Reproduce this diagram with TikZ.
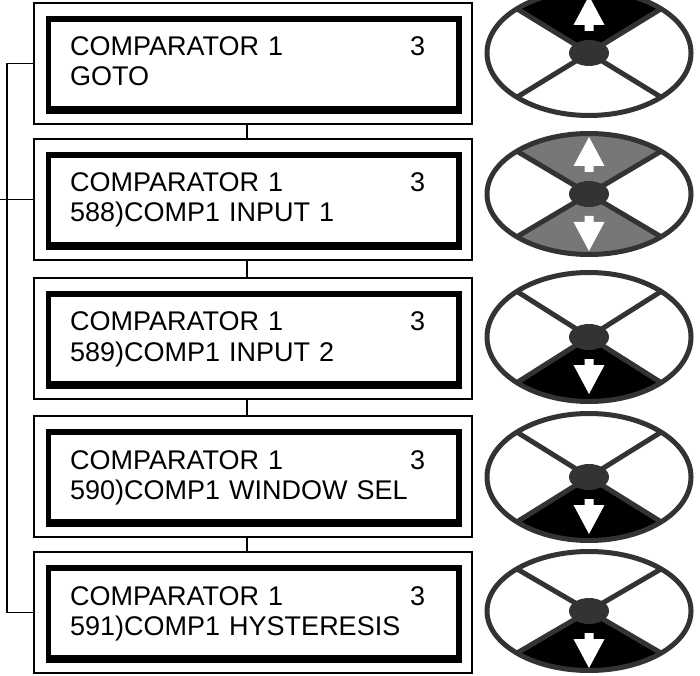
\documentclass[tikz,border=0pt]{standalone}
\usepackage{fontspec}
\setmainfont{Liberation Sans}
\definecolor{padline}{HTML}{333333}
\definecolor{padgray}{HTML}{777777}
\begin{document}
\begin{tikzpicture}[x=1pt, y=1pt,
  panel/.style={draw, line width=1.3pt, minimum width=438pt, minimum height=121pt, inner sep=0pt, outer sep=0pt},
  lcd/.style={anchor=base west, inner sep=0pt, text width=355pt, align=left, font=\fontsize{27}{30}\selectfont},
  link/.style={line width=1.3pt},
  rim/.style={padline, line width=5pt}]
\clip (0,0) rectangle (700,675);
% display panels
\foreach \i/\yb/\txt in {1/611.5/GOTO, 2/475.5/588)COMP1 INPUT 1, 3/336.5/589)COMP1 INPUT 2, 4/198.5/590)COMP1 WINDOW SEL, 5/62.5/591)COMP1 HYSTERESIS}{
  \node[panel] (b\i) at (253,\yb) {};
  \fill ([shift={(12,-13)}]b\i.north west) rectangle ([shift={(-10,10)}]b\i.south east);
  \fill[white] ([shift={(17,-19)}]b\i.north west) rectangle ([shift={(-16,18)}]b\i.south east);
  \node[lcd] (l\i) at ([shift={(36,-53)}]b\i.north west) {COMPARATOR 1\hfill 3};
  \node[lcd] (m\i) at ([shift={(36,-83)}]b\i.north west) {\txt};
}
\foreach \i [count=\j from 2] in {1,...,4}
  \draw[link] ([xshift=-6pt]b\i.south) -- ([xshift=-6pt]b\j.north);
\draw[link] (b1.west) -- ++(-27,0) |- (b5.west);
\draw[link] (b2.west) -- (b2.west -| 0,0);
% keypads
\foreach \i/\cy/\ry/\tc/\ta/\bc/\ba in {1/622/62.5/black/white/none/none, 2/481/60.5/padgray/white/padgray/white, 3/338/64.5/none/none/black/white, 4/198/63.5/none/none/black/white, 5/64/59.5/none/none/black/white}{
  \coordinate (w\i) at (589,\cy);
  \fill[fill=\tc] (w\i) -- ++(45:102 and \ry) arc[start angle=45, end angle=135, x radius=102, y radius=\ry] -- cycle;
  \fill[fill=\bc] (w\i) -- ++(225:102 and \ry) arc[start angle=225, end angle=315, x radius=102, y radius=\ry] -- cycle;
  \fill[fill=\ta] (w\i) ++(-4.5,22) -- ++(0,6) -- ++(-11,0) -- ++(15.5,29) -- ++(15.5,-29) -- ++(-11,0) -- ++(0,-6) -- cycle;
  \fill[fill=\ba] (w\i) ++(-4.5,-22) -- ++(0,-6) -- ++(-11,0) -- ++(15.5,-29) -- ++(15.5,29) -- ++(-11,0) -- ++(0,6) -- cycle;
  \draw[rim] (w\i) ellipse[x radius=102, y radius=\ry];
  \draw[rim] (w\i) -- ++(45:102 and \ry) (w\i) -- ++(135:102 and \ry)
    (w\i) -- ++(225:102 and \ry) (w\i) -- ++(315:102 and \ry);
  \fill[padline] (w\i) ellipse[x radius=20, y radius=13];
}
\end{tikzpicture}
\end{document}
